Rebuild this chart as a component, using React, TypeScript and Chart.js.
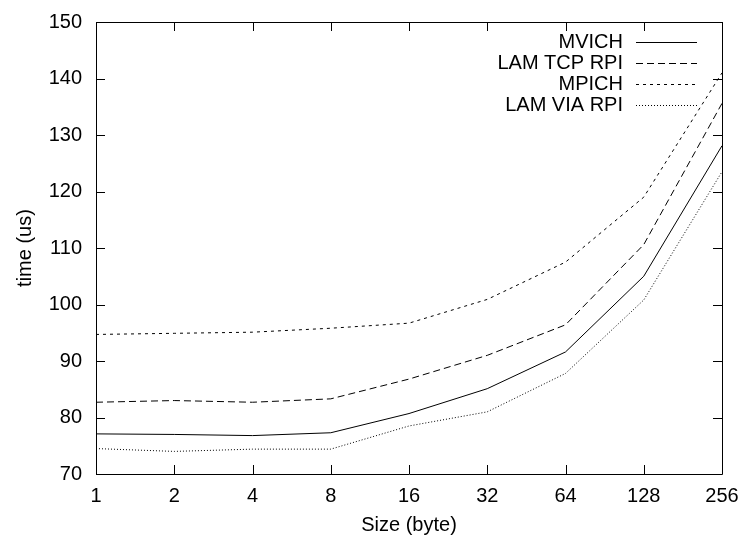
import React, { useEffect, useRef } from "react";
import { Chart, registerables } from "chart.js";

Chart.register(...registerables);

const sizes = ["1", "2", "4", "8", "16", "32", "64", "128", "256"];
const mvich = [77.1, 77.0, 76.8, 77.3, 80.7, 85.1, 91.6, 105.0, 128.1];
const lamTcp = [82.7, 83.0, 82.7, 83.3, 86.8, 91.0, 96.4, 110.6, 135.6];
const mpich = [94.7, 94.9, 95.1, 95.8, 96.7, 100.9, 107.5, 119.0, 141.0];
const lamVia = [74.5, 74.0, 74.4, 74.4, 78.5, 81.0, 87.8, 100.8, 123.5];
const seriesNames = ["MVICH", "LAM TCP RPI", "MPICH", "LAM VIA RPI"];
const seriesDashes = [[], [7, 4], [3, 4], [1, 2]];

const FONT = '"Liberation Sans", Arial, Helvetica, sans-serif';

const framePlugin = {
  id: "frameTicks",
  afterDatasetsDraw(chart: any) {
    const { ctx, chartArea } = chart;
    const { left, right, top, bottom } = chartArea;
    const xs = chart.scales.x;
    const ys = chart.scales.y;
    const tl = 9;
    ctx.save();
    ctx.strokeStyle = "#000";
    ctx.lineWidth = 1;
    ctx.setLineDash([]);
    ctx.beginPath();
    ctx.rect(Math.round(left) + 0.5, Math.round(top) + 0.5, Math.round(right - left), Math.round(bottom - top));
    ctx.stroke();
    ctx.beginPath();
    for (let i = 0; i < sizes.length; i++) {
      const x = Math.round(xs.getPixelForValue(i)) + 0.5;
      ctx.moveTo(x, bottom);
      ctx.lineTo(x, bottom - tl);
      ctx.moveTo(x, top);
      ctx.lineTo(x, top + tl);
    }
    for (let v = 70; v <= 150; v += 10) {
      const y = Math.round(ys.getPixelForValue(v)) + 0.5;
      ctx.moveTo(left, y);
      ctx.lineTo(left + tl, y);
      ctx.moveTo(right, y);
      ctx.lineTo(right - tl, y);
    }
    ctx.stroke();

    // legend
    const textRight = 623;
    const lineStart = 636;
    const lineEnd = 697;
    const y0 = 41.5;
    const dy = 21;
    ctx.font = `20px ${FONT}`;
    ctx.fillStyle = "#000";
    ctx.textAlign = "right";
    ctx.textBaseline = "middle";
    chart.data.datasets.forEach((ds: any, i: number) => {
      const y = y0 + i * dy;
      ctx.fillText(ds.label, textRight, y + 1);
      ctx.beginPath();
      ctx.setLineDash(ds.borderDash || []);
      ctx.moveTo(lineStart, Math.round(y) + 0.5);
      ctx.lineTo(lineEnd, Math.round(y) + 0.5);
      ctx.stroke();
    });
    ctx.restore();
  },
};

export default function App() {
  const ref = useRef<HTMLCanvasElement>(null);
  useEffect(() => {
    if (!ref.current) return;
    const allSeries = [mvich, lamTcp, mpich, lamVia];
    const chart = new Chart(ref.current, {
      type: "line",
      data: {
        labels: sizes,
        datasets: allSeries.map((d, i) => ({
          label: seriesNames[i],
          data: d,
          borderColor: "#000",
          borderWidth: 1,
          borderDash: seriesDashes[i],
          pointRadius: 0,
          fill: false,
          tension: 0,
        })),
      },
      options: {
        animation: false,
        responsive: true,
        maintainAspectRatio: false,
        layout: { padding: { left: 0, right: 21, top: 22, bottom: 0 } },
        plugins: {
          legend: { display: false },
          tooltip: { enabled: false },
        },
        scales: {
          x: {
            type: "category",
            offset: false,
            grid: { display: false, drawTicks: false },
            border: { display: false },
            ticks: { color: "#000", font: { family: FONT, size: 20 }, padding: 10, maxRotation: 0, autoSkip: false },
            title: { display: true, text: "Size (byte)", color: "#000", font: { family: FONT, size: 20 }, padding: { top: 0, bottom: 3 } },
            afterFit: (s: any) => { s.height = 66; s.paddingLeft = 0; s.paddingRight = 0; },
          },
          y: {
            min: 70,
            max: 150,
            grid: { display: false, drawTicks: false },
            border: { display: false },
            ticks: { stepSize: 10, color: "#000", font: { family: FONT, size: 20 }, padding: 14 },
            title: { display: true, text: "time (us)", color: "#000", font: { family: FONT, size: 20 }, padding: { top: 13, bottom: 0 } },
            afterFit: (s: any) => { s.width = 96; s.paddingTop = 0; s.paddingBottom = 0; },
          },
        },
      },
      plugins: [framePlugin],
    });
    return () => chart.destroy();
  }, []);
  return (
    <div style={{ position: "absolute", left: 0, top: 0, width: 743, height: 540, background: "#fff" }}>
      <canvas ref={ref} />
    </div>
  );
}
